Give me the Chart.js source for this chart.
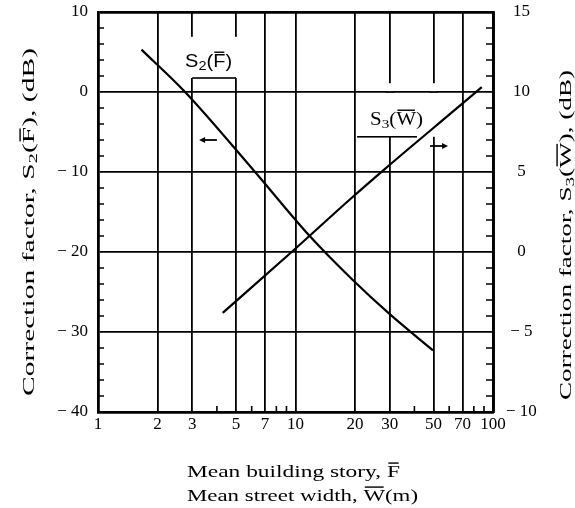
<!DOCTYPE html>
<html>
<head>
<meta charset="utf-8">
<script src="https://cdn.jsdelivr.net/npm/chart.js@4.4.1/dist/chart.umd.min.js"></script>
<style>
  html, body { margin: 0; padding: 0; background: #fff; }
</style>
</head>
<body>
<canvas id="chart" width="575" height="508"></canvas>
<script>
/* ── data ───────────────────────────────────────────── */
const xTicks = [1, 2, 3, 5, 7, 10, 20, 30, 50, 70, 100];
const xMinor = [4, 6, 8, 9, 40, 60, 80, 90];
const leftTicks = [-40, -30, -20, -10, 0, 10];
const leftMinor = [-38, -36, -34, -32, -28, -26, -24, -22, -18, -16, -14, -12, -8, -6, -4, -2, 2, 4, 6, 8];
const rightTicks = [-10, -5, 0, 5, 10, 15];
const rightMinor = [-9, -8, -7, -6, -4, -3, -2, -1, 1, 2, 3, 4, 6, 7, 8, 9, 11, 12, 13, 14];

// S2(F) against the left axis, x = mean building story
const s2X = [1.66, 2.76, 6.24, 11.8, 19.5, 30.1, 49.7];
const s2Y = [5.3, 0, -10, -18, -23.5, -27.8, -32.3];
// S3(W) against the right axis, x = mean street width
const s3X = [4.28, 9.56, 18.9, 28.4, 67.3, 87.7];
const s3Y = [-3.8, 0, 3.3, 5.2, 9.1, 10.3];

const SERIF = '"Liberation Serif", serif';
const SANS = '"Liberation Sans", sans-serif';

/* ── text helpers ──────────────────────────────────── */
// parts: {t, bar?, sub?}; draws at the current origin, stretched to targetW
function drawParts(ctx, parts, size, family, targetW, align) {
  const fontOf = p => `${p.sub ? Math.round(size * 0.72) : size}px ${family}`;
  ctx.textAlign = "left";
  ctx.textBaseline = "alphabetic";
  const widths = parts.map(p => { ctx.font = fontOf(p); return ctx.measureText(p.t).width; });
  const w = widths.reduce((a, b) => a + b, 0);
  const sx = targetW ? targetW / w : 1;
  ctx.save();
  ctx.scale(sx, 1);
  let x = align === "center" ? -w / 2 : 0;
  parts.forEach((p, i) => {
    ctx.font = fontOf(p);
    ctx.fillText(p.t, x, p.sub ? size * 0.15 : 0);
    if (p.bar) ctx.fillRect(x + 1, -size * 0.86, widths[i] - 2, 1.4);
    x += widths[i];
  });
  ctx.restore();
}

const noPad = s => { s.paddingTop = 0; s.paddingBottom = 0; s.paddingLeft = 0; s.paddingRight = 0; };

/* ── plugin: gaps, labels, arrows, minor ticks, titles ─ */
const decor = {
  id: "decor",
  beforeDatasetsDraw(chart) {
    const { ctx, scales: { x, y } } = chart;
    // gaps in the vertical grid lines behind the curve labels
    const gaps = [
      { at: [3, 5], from: 6.9, to: 1.75 },
      { at: [30, 50], from: 1.1, to: -5.6 },
    ];
    ctx.save();
    gaps.forEach(g => {
      const y0 = y.getPixelForValue(g.from), y1 = y.getPixelForValue(g.to);
      g.at.forEach(v => {
        const px = x.getPixelForValue(v);
        ctx.fillStyle = "#fff";
        ctx.fillRect(px - 3, y0, 6, y1 - y0);
        ctx.fillStyle = "#000";
        leftTicks.forEach(t => {
          const py = y.getPixelForValue(t);
          if (py > y0 && py < y1) ctx.fillRect(px - 4, py - 0.9, 8, 1.8);
        });
      });
    });
    ctx.restore();
  },
  afterDraw(chart) {
    const { ctx, scales: { x, y, y2 }, chartArea: a } = chart;
    ctx.save();
    ctx.fillStyle = "#000";
    ctx.strokeStyle = "#000";

    // minor ticks
    ctx.lineWidth = 1.6;
    ctx.beginPath();
    leftMinor.forEach(v => { const py = y.getPixelForValue(v); ctx.moveTo(a.left, py); ctx.lineTo(a.left + 6, py); });
    rightMinor.forEach(v => { const py = y2.getPixelForValue(v); ctx.moveTo(a.right, py); ctx.lineTo(a.right - 7, py); });
    xMinor.forEach(v => { const px = x.getPixelForValue(v); ctx.moveTo(px, a.bottom); ctx.lineTo(px, a.bottom - 6); });
    ctx.stroke();

    // curve labels with underline
    const underline = (x0, x1, yv) => {
      const py = y.getPixelForValue(yv);
      ctx.fillRect(x.getPixelForValue(x0), py - 0.8, x.getPixelForValue(x1) - x.getPixelForValue(x0), 1.6);
    };
    ctx.save();
    ctx.translate(x.getPixelForValue(3.63), y.getPixelForValue(4.0) + 7);
    drawParts(ctx, [{ t: "S" }, { t: "2", sub: true }, { t: "(" }, { t: "F", bar: true }, { t: ")" }], 18, SANS, 47, "center");
    ctx.restore();
    underline(3, 5, 1.75);

    ctx.save();
    ctx.translate(x.getPixelForValue(32.5), y.getPixelForValue(-3.25) + 7);
    drawParts(ctx, [{ t: "S" }, { t: "3", sub: true }, { t: "(" }, { t: "W", bar: true }, { t: ")" }], 18, SERIF, 53, "center");
    ctx.restore();
    underline(20.5, 41.2, -5.6);

    // arrows pointing to the axis each curve uses
    const arrow = (x0, x1, yv) => {
      const p0 = x.getPixelForValue(x0), p1 = x.getPixelForValue(x1), py = y.getPixelForValue(yv);
      const dir = Math.sign(p1 - p0);
      ctx.lineWidth = 1.8;
      ctx.beginPath(); ctx.moveTo(p0, py); ctx.lineTo(p1 - dir * 4, py); ctx.stroke();
      ctx.beginPath(); ctx.moveTo(p1, py); ctx.lineTo(p1 - dir * 6, py - 3); ctx.lineTo(p1 - dir * 6, py + 3); ctx.closePath(); ctx.fill();
    };
    arrow(4.0, 3.25, -6);
    arrow(48, 59.2, -6.75);

    // axis titles
    ctx.save();
    ctx.translate(34, 222);
    ctx.rotate(-Math.PI / 2);
    drawParts(ctx, [{ t: "Correction factor, S" }, { t: "2", sub: true }, { t: "(" }, { t: "F", bar: true }, { t: "), (dB)" }], 17, SERIF, 348, "center");
    ctx.restore();

    ctx.save();
    ctx.translate(571, 235);
    ctx.rotate(-Math.PI / 2);
    drawParts(ctx, [{ t: "Correction factor, S" }, { t: "3", sub: true }, { t: "(" }, { t: "W", bar: true }, { t: "), (dB)" }], 17, SERIF, 330, "center");
    ctx.restore();

    ctx.save();
    ctx.translate(187, 477);
    drawParts(ctx, [{ t: "Mean building story, " }, { t: "F", bar: true }], 17, SERIF, 213, "left");
    ctx.restore();

    ctx.save();
    ctx.translate(187, 501);
    drawParts(ctx, [{ t: "Mean street width, " }, { t: "W", bar: true }, { t: "(m)" }], 17, SERIF, 231, "left");
    ctx.restore();

    ctx.restore();
  },
};

/* ── chart ──────────────────────────────────────────── */
const minus = v => (v < 0 ? "\u2212 " + (-v) : String(v));
const tickFont = { family: "Liberation Serif", size: 17 };

new Chart(document.getElementById("chart"), {
  type: "scatter",
  data: {
    datasets: [
      {
        label: "S2",
        data: s2X.map((v, i) => ({ x: v, y: s2Y[i] })),
        yAxisID: "y",
        showLine: true,
        borderColor: "#000",
        borderWidth: 2.2,
        pointRadius: 0,
        cubicInterpolationMode: "monotone",
      },
      {
        label: "S3",
        data: s3X.map((v, i) => ({ x: v, y: s3Y[i] })),
        yAxisID: "y2",
        showLine: true,
        borderColor: "#000",
        borderWidth: 2.2,
        pointRadius: 0,
        cubicInterpolationMode: "monotone",
      },
    ],
  },
  options: {
    responsive: false,
    animation: false,
    devicePixelRatio: 1,
    layout: { padding: { top: 12, left: 0, right: 0, bottom: 0 } },
    plugins: { legend: { display: false }, tooltip: { enabled: false } },
    scales: {
      x: {
        type: "logarithmic",
        min: 1,
        max: 100,
        afterBuildTicks: s => { s.ticks = xTicks.map(v => ({ value: v })); },
        afterFit: s => { s.height = 96; noPad(s); },
        ticks: { callback: v => String(v), autoSkip: false, maxRotation: 0, color: "#000", font: tickFont, padding: 2 },
        grid: { color: "#000", lineWidth: c => (c.tick && c.tick.value === 100 ? 2.8 : 1.8), drawTicks: false },
        border: { color: "#000", width: 2.8 },
      },
      y: {
        position: "left",
        min: -40,
        max: 10,
        afterBuildTicks: s => { s.ticks = leftTicks.map(v => ({ value: v })); },
        afterFit: s => { s.width = 98; noPad(s); },
        ticks: { callback: minus, color: "#000", font: tickFont, padding: 10 },
        grid: { color: "#000", lineWidth: c => (c.tick && c.tick.value === 10 ? 2.8 : 1.8), drawTicks: false },
        border: { color: "#000", width: 2.8 },
      },
      y2: {
        position: "right",
        min: -10,
        max: 15,
        afterBuildTicks: s => { s.ticks = rightTicks.map(v => ({ value: v })); },
        afterFit: s => { s.width = 82; noPad(s); },
        ticks: { callback: minus, color: "#000", font: tickFont, padding: 13, crossAlign: "center" },
        grid: { display: false, drawTicks: false },
        border: { color: "#000", width: 2.8 },
      },
    },
  },
  plugins: [decor],
});
</script>
</body>
</html>
